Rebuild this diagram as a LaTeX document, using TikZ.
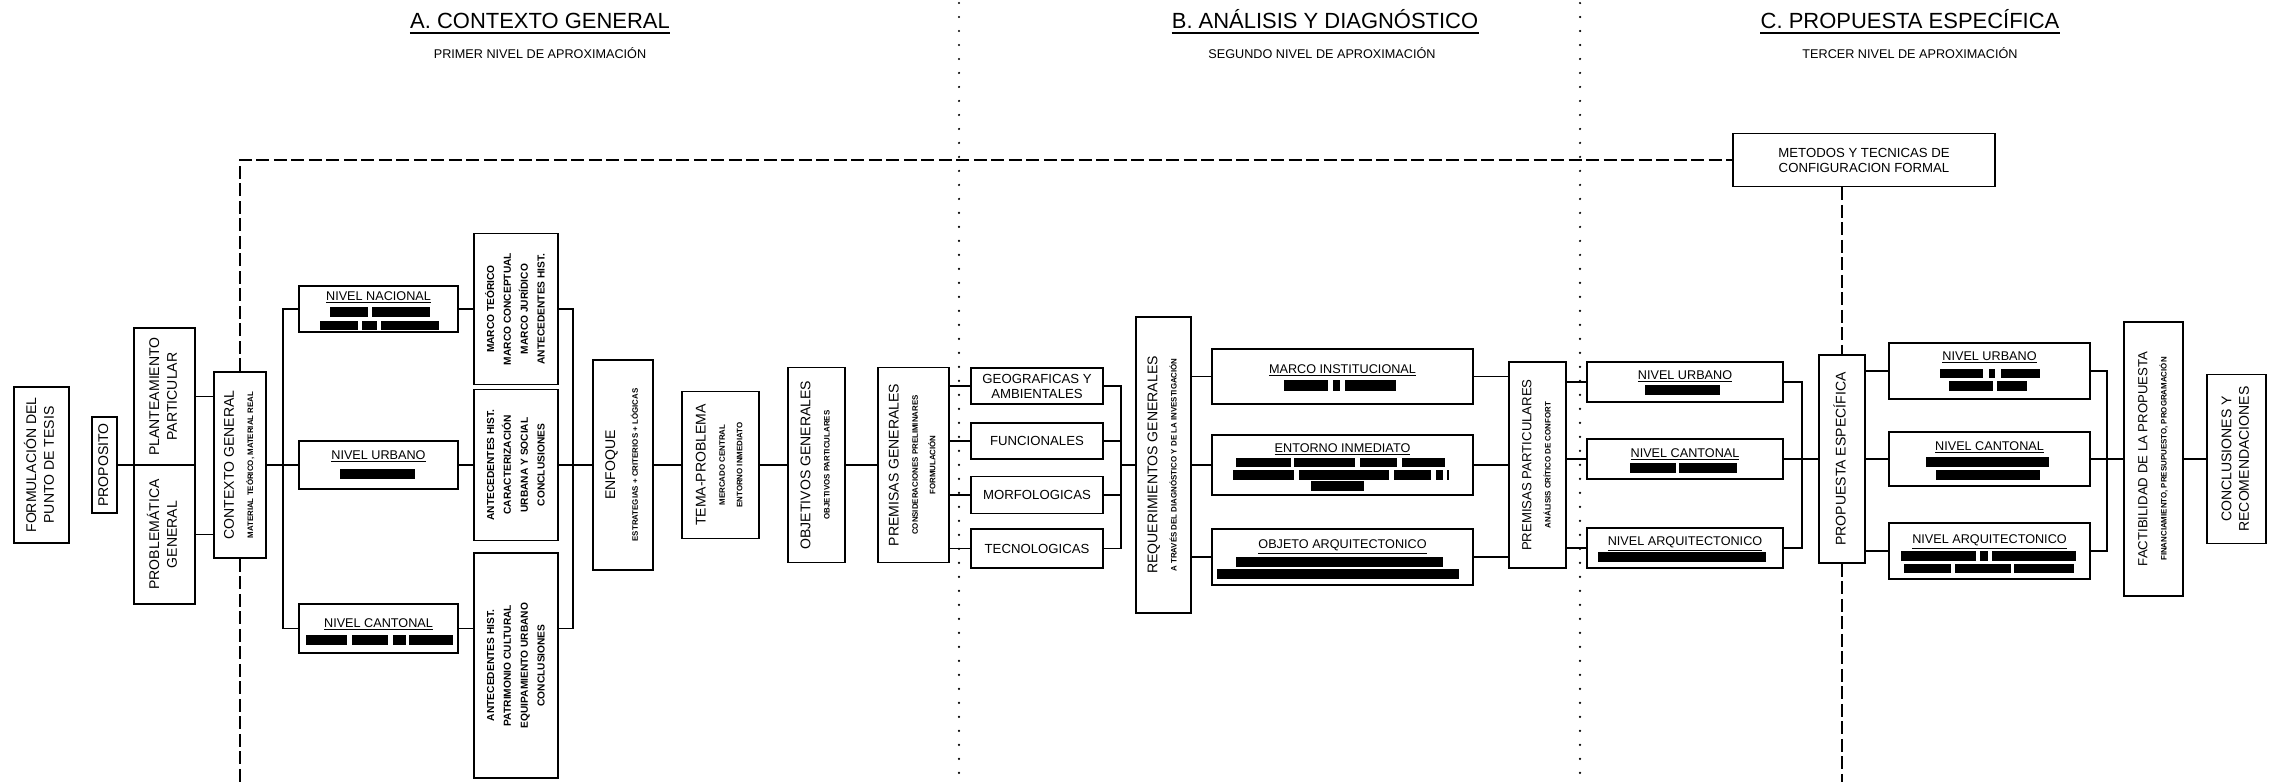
\documentclass[tikz,border=0pt]{standalone}
\usepackage{fontspec}
\setmainfont{Liberation Sans}
\usepackage{graphicx}
\usetikzlibrary{calc}

\newcommand{\vtext}[1]{\rotatebox{90}{\begin{tabular}{@{}c@{}}#1\end{tabular}}}
\newcommand{\subfnt}{\fontsize{4.5}{5.5}\selectfont\bfseries}

\begin{document}
\begin{tikzpicture}[x=0.02cm, y=-0.02cm,
    bx/.style={draw, line width=1.1pt, inner sep=0.5pt, font=\fontsize{8}{10}\selectfont},
    wh/.style 2 args={minimum width=#1*0.02cm, minimum height=#2*0.02cm},
    mk/.style={font=\fontsize{5.8}{9.6}\selectfont\bfseries},
    sbx/.style={align=center, font=\fontsize{7.5}{8.5}\selectfont},
    hd/.style={inner sep=0pt, anchor=base, font=\fontsize{7.2}{8}\selectfont},
    cn/.style={line width=0.9pt},
    dsh/.style={line width=0.9pt, dash pattern=on 0.26cm off 0.09cm},
    dtt/.style={line width=1.4pt, line cap=round, dash pattern=on 0pt off 0.28cm},
    ttl/.style={inner sep=0pt, anchor=base, font=\fontsize{12.5}{14}\selectfont},
    sbt/.style={inner sep=0pt, anchor=base, font=\fontsize{7.2}{9}\selectfont}]
    \useasboundingbox (0,0) rectangle (2281,782);
    \coordinate (bot) at (0,782);

    % titles
    \node[ttl] (tA) at (540,28) {A. CONTEXTO GENERAL};
    \node[ttl] (tB) at (1325,28) {B. ANÁLISIS Y DIAGNÓSTICO};
    \node[ttl] (tC) at (1910,28) {C. PROPUESTA ESPECÍFICA};
    \foreach \t in {tA,tB,tC}
        \draw[line width=1.6pt] ($(\t.base west)+(0,5)$) -- ($(\t.base east)+(0,5)$);
    \node[sbt] (sA) at (540,58) {PRIMER NIVEL DE APROXIMACIÓN};
    \node[sbt] (sB) at (1322,58) {SEGUNDO NIVEL DE APROXIMACIÓN};
    \node[sbt] (sC) at (1910,58) {TERCER NIVEL DE APROXIMACIÓN};

    % separators
    \draw[dtt] (959,3) -- (959,780);
    \draw[dtt] (1580,3) -- (1580,780);

    % A. contexto general
    \node[bx, wh={55}{156}] (form) at (41.5,465) {\vtext{FORMULACIÓN DEL\\PUNTO DE TESIS}};
    \node[bx, wh={25}{96}] (prop) at (104.5,465) {\vtext{PROPOSITO}};
    \node[bx, wh={61}{137}] (plan) at (164.5,396.5) {\vtext{PLANTEAMIENTO\\PARTICULAR}};
    \node[bx, wh={61}{139}] (probl) at (164.5,534.5) {\vtext{PROBLEMÁTICA\\GENERAL}};
    \node[bx, wh={52}{186}] (ctx) at (240,465) {\vtext{CONTEXTO GENERAL\\[1pt]\subfnt MATERIAL TEÓRICO, MATERIAL REAL}};

    \node[bx, wh={159}{46}] (nac) at (378.5,309) {};
    \node[bx, wh={159}{48}] (urb) at (378.5,465) {};
    \node[bx, wh={159}{49}] (can) at (378.5,628.5) {};
    \node[hd] (hnac) at (378.5,300) {\underline{NIVEL NACIONAL}};
    \node[hd] (hurb) at (378.5,459) {\underline{NIVEL URBANO}};
    \node[hd] (hcan) at (378.5,627) {\underline{NIVEL CANTONAL}};
    \foreach \a/\b in {330/368,372/430} \fill (\a,307) rectangle (\b,317);
    \foreach \a/\b in {320/358,362/377,381/439} \fill (\a,321) rectangle (\b,330);
    \fill (340,469) rectangle (415,479);
    \foreach \a/\b in {306/347,352/388,393/406,409/453} \fill (\a,635) rectangle (\b,645);

    \node[bx, mk, wh={84}{151}] (mt) at (516,309) {\vtext{MARCO TEÓRICO\\MARCO CONCEPTUAL\\MARCO JURÍDICO\\ANTECEDENTES HIST.}};
    \node[bx, mk, wh={84}{151}] (ah1) at (516,465) {\vtext{ANTECEDENTES HIST.\\CARACTERIZACIÓN\\URBANA Y SOCIAL\\CONCLUSIONES}};
    \node[bx, mk, wh={84}{225}] (ah2) at (516,665.5) {\vtext{ANTECEDENTES HIST.\\PATRIMONIO CULTURAL\\EQUIPAMIENTO URBANO\\CONCLUSIONES}};

    \node[bx, wh={60}{210}] (enf) at (623,465) {\vtext{ENFOQUE\\[3pt]\subfnt ESTRATEGIAS + CRITERIOS + LÓGICAS}};
    \node[bx, wh={77}{147}] (tema) at (720.5,465) {\vtext{TEMA-PROBLEMA\\[1pt]\subfnt MERCADO CENTRAL\\\subfnt ENTORNO INMEDIATO}};
    \node[bx, wh={57}{195}] (obj) at (816.5,465) {\vtext{OBJETIVOS GENERALES\\[1pt]\subfnt OBJETIVOS PARTICULARES}};
    \node[bx, wh={71}{195}] (prem) at (913.5,465) {\vtext{PREMISAS GENERALES\\[1pt]\subfnt CONSIDERACIONES PRELIMINARES\\\subfnt FORMULACIÓN}};

    % B. analisis y diagnostico
    \node[bx, sbx, wh={132}{36}] (geo) at (1037,386) {GEOGRAFICAS Y\\AMBIENTALES};
    \node[bx, sbx, wh={132}{36}] (fun) at (1037,441) {FUNCIONALES};
    \node[bx, sbx, wh={132}{37}] (mor) at (1037,495) {MORFOLOGICAS};
    \node[bx, sbx, wh={132}{39}] (tec) at (1037,548.5) {TECNOLOGICAS};
    \node[bx, wh={55}{296}] (req) at (1163.5,465) {\vtext{REQUERIMIENTOS GENERALES\\[1pt]\subfnt A TRAVÉS DEL DIAGNÓSTICO Y DE LA INVESTIGACIÓN}};

    \node[bx, wh={261}{55}] (minst) at (1342.5,376.5) {};
    \node[bx, wh={261}{60}] (ent) at (1342.5,465) {};
    \node[bx, wh={261}{56}] (oarq) at (1342.5,557) {};
    \node[hd] (hminst) at (1342.5,373) {\underline{MARCO INSTITUCIONAL}};
    \node[hd] (hent) at (1342.5,452) {\underline{ENTORNO INMEDIATO}};
    \node[hd] (hoarq) at (1342.5,548) {\underline{OBJETO ARQUITECTONICO}};
    \foreach \a/\b in {1284/1328,1333/1340,1345/1396} \fill (\a,380) rectangle (\b,391);
    \foreach \a/\b in {1236/1291,1294/1355,1360/1397,1402/1445} \fill (\a,458) rectangle (\b,467);
    \foreach \a/\b in {1233/1294,1299/1389,1394/1431,1436/1443,1447/1449} \fill (\a,470) rectangle (\b,480);
    \fill (1311,481) rectangle (1364,491);
    \fill (1236,557) rectangle (1443,567);
    \fill (1217,569) rectangle (1459,579);

    \node[bx, wh={57}{206}, font=\fontsize{7.5}{10}\selectfont] (pp) at (1537.5,465) {\vtext{PREMISAS PARTICULARES\\[1pt]\subfnt ANÁLISIS CRÍTICO DE CONFORT}};

    % C. propuesta especifica
    \node[bx, wh={196}{40}] (u2) at (1685,382) {};
    \node[bx, wh={196}{40}] (c2) at (1685,459) {};
    \node[bx, wh={196}{40}] (a2) at (1685,548) {};
    \node[hd] (hu2) at (1685,379) {\underline{NIVEL URBANO}};
    \node[hd] (hc2) at (1685,457) {\underline{NIVEL CANTONAL}};
    \node[hd] (ha2) at (1685,545) {\underline{NIVEL ARQUITECTONICO}};
    \fill (1645,385) rectangle (1720,395);
    \foreach \a/\b in {1630/1676,1679/1737} \fill (\a,463) rectangle (\b,473);
    \fill (1598,552) rectangle (1766,562);

    \node[bx, sbx, wh={262}{53}] (met) at (1864,160) {METODOS Y TECNICAS DE\\CONFIGURACION FORMAL};
    \node[bx, wh={46}{208}] (pe) at (1842,459) {\vtext{PROPUESTA ESPECÍFICA}};

    \node[bx, wh={201}{56}] (u3) at (1989.5,371) {};
    \node[bx, wh={201}{54}] (c3) at (1989.5,459) {};
    \node[bx, wh={201}{56}] (a3) at (1989.5,551) {};
    \node[hd] (hu3) at (1989.5,360) {\underline{NIVEL URBANO}};
    \node[hd] (hc3) at (1989.5,450) {\underline{NIVEL CANTONAL}};
    \node[hd] (ha3) at (1989.5,543) {\underline{NIVEL ARQUITECTONICO}};
    \foreach \a/\b in {1940/1983,1989/1995,2001/2040} \fill (\a,369) rectangle (\b,378);
    \foreach \a/\b in {1949/1993,1997/2027} \fill (\a,381) rectangle (\b,391);
    \fill (1926,457) rectangle (2049,467);
    \fill (1936,470) rectangle (2040,480);
    \foreach \a/\b in {1901/1976,1980/1988,1992/2076} \fill (\a,551) rectangle (\b,561);
    \foreach \a/\b in {1904/1951,1955/2011,2014/2074} \fill (\a,564) rectangle (\b,573);

    \node[bx, wh={59}{274}, font=\fontsize{7.5}{10}\selectfont] (fact) at (2153.5,459) {\vtext{FACTIBILIDAD DE LA PROPUESTA\\[1pt]\subfnt FINANCIAMIENTO, PRESUPUESTO, PROGRAMACIÓN}};
    \node[bx, wh={59}{169}] (conc) at (2236.5,459) {\vtext{CONCLUSIONES Y\\RECOMENDACIONES}};

    % connectors
    \draw[cn] (prop.east) -- (prop.east -| plan.west);
    \draw[cn] (plan.east) -- (plan.east -| ctx.west);
    \draw[cn] (probl.east) -- (probl.east -| ctx.west);
    \coordinate (j1) at (283,465);
    \draw[cn] (ctx.east) -- (urb.west);
    \draw[cn] (nac.west) -| (j1) |- (can.west);
    \draw[cn] (nac.east) -- (mt.west);
    \draw[cn] (urb.east) -- (ah1.west);
    \draw[cn] (can.east) -- (can.east -| ah2.west);
    \coordinate (j2) at (573,465);
    \draw[cn] (mt.east) -| (j2) |- (can.east -| ah2.east);
    \draw[cn] (ah1.east) -- (enf.west);
    \draw[cn] (enf.east) -- (tema.west);
    \draw[cn] (tema.east) -- (obj.west);
    \draw[cn] (obj.east) -- (prem.west);
    \foreach \n in {geo,fun,mor,tec}
        \draw[cn] (\n.west -| prem.east) -- (\n.west);
    \coordinate (j3) at (1121,465);
    \draw[cn] (geo.east) -| (j3) |- (tec.east);
    \draw[cn] (fun.east) -- (fun.east -| j3);
    \draw[cn] (mor.east) -- (mor.east -| j3);
    \draw[cn] (j3) -- (req.west);
    \foreach \n in {minst,ent,oarq} {
        \draw[cn] (\n.west -| req.east) -- (\n.west);
        \draw[cn] (\n.east) -- (\n.east -| pp.west);
    }
    \foreach \n in {u2,c2,a2}
        \draw[cn] (\n.west -| pp.east) -- (\n.west);
    \coordinate (j4) at (1802,459);
    \draw[cn] (u2.east) -| (j4) |- (a2.east);
    \draw[cn] (c2.east) -- (pe.west);
    \foreach \n in {u3,c3,a3}
        \draw[cn] (\n.west -| pe.east) -- (\n.west);
    \coordinate (j5) at (2107,459);
    \draw[cn] (u3.east) -| (j5) |- (a3.east);
    \draw[cn] (c3.east) -- (fact.west);
    \draw[cn] (fact.east) -- (conc.west);

    % dashed links
    \draw[dsh] (ctx.north) |- (met.west);
    \draw[dsh] (ctx.south) -- (ctx.south |- bot);
    \draw[dsh] (met.south -| pe.north) -- (pe.north);
    \draw[dsh] (pe.south) -- (pe.south |- bot);
\end{tikzpicture}
\end{document}
